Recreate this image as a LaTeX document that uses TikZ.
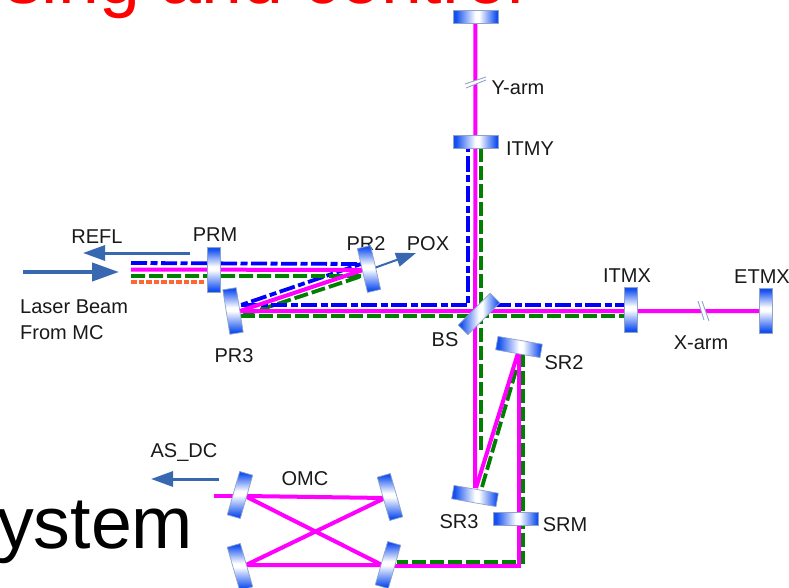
\documentclass[tikz,border=0pt]{standalone}
\usepackage{fontspec}
\setmainfont{Liberation Sans}
\usetikzlibrary{arrows.meta,backgrounds}
\definecolor{mirblue}{HTML}{1450F0}
\definecolor{miredge}{HTML}{8FA3C8}
\definecolor{arrblue}{HTML}{3768B0}
\definecolor{beammag}{HTML}{FF00FF}
\definecolor{beamblue}{HTML}{0000FF}
\definecolor{beamgreen}{HTML}{007F00}
\definecolor{beamorange}{HTML}{FF6633}
\pgfdeclarehorizontalshading{mirrorh}{100bp}{color(0bp)=(mirblue); color(28bp)=(mirblue); color(50bp)=(white); color(54bp)=(white); color(73bp)=(mirblue); color(100bp)=(mirblue)}
\pgfdeclareverticalshading{mirrorv}{100bp}{color(0bp)=(mirblue); color(28bp)=(mirblue); color(50bp)=(white); color(54bp)=(white); color(73bp)=(mirblue); color(100bp)=(mirblue)}
\tikzset{
  x=1pt,y=-1pt,
  hmirror/.style={draw=miredge,line width=.7pt,minimum width=45pt,minimum height=13.5pt,inner sep=0pt,shading=mirrorh},
  vmirror/.style={draw=miredge,line width=.7pt,minimum width=13.5pt,minimum height=45pt,inner sep=0pt,shading=mirrorv},
  lab/.style={font=\fontsize{20}{22}\selectfont,text=black!90,inner sep=0pt},
  magbeam/.style={draw=beammag,line width=4pt,line join=miter},
  bluebeam/.style={draw=beamblue,line width=3.8pt,dash pattern=on 16pt off 3.5pt on 7pt off 3.5pt},
  greenbeam/.style={draw=beamgreen,line width=3.8pt,dash pattern=on 14pt off 4pt},
  orangebeam/.style={draw=beamorange,line width=4.4pt,dash pattern=on 5.5pt off 2pt},
  bigarrow/.style={draw=arrblue,line width=4pt,-{Triangle[length=27pt,width=18pt,fill=arrblue]}},
  midarrow/.style={draw=arrblue,line width=3pt,-{Triangle[length=22pt,width=15pt,fill=arrblue]}},
  smallarrow/.style={draw=arrblue,line width=2pt,-{Triangle[length=20pt,width=14pt,fill=arrblue]}},
  breakmark/.style={draw=miredge,line width=.9pt,fill=white},
}
\begin{document}
\begin{tikzpicture}
\useasboundingbox (0,0) rectangle (789,588);
\clip (0,0) rectangle (789,588);
% slide title and text behind the figure
\node[anchor=base west,inner sep=0pt,text=red,font=\fontsize{73.5}{75}\selectfont] (title) at (5,4) {sing and control};
\node[anchor=base west,inner sep=0pt,text=black,font=\fontsize{73.5}{75}\selectfont] (sys) at (-3,548) {ystem};
% labels
\node[lab] (lrefl) at (97,237) {REFL};
\node[lab] (lprm) at (215,235) {PRM};
\node[lab,anchor=west] (llaser) at (20,307) {Laser Beam};
\node[lab,anchor=west] (lmc) at (20,333) {From MC};
\node[lab] (lpr3) at (234,356) {PR3};
\node[lab] (lpr2) at (366,244) {PR2};
\node[lab] (lpox) at (428,244) {POX};
\node[lab] (lyarm) at (518,88) {Y-arm};
\node[lab] (litmy) at (530,149) {ITMY};
\node[lab] (litmx) at (627,276) {ITMX};
\node[lab] (letmx) at (762,277) {ETMX};
\node[lab] (lxarm) at (701,343) {X-arm};
\node[lab] (lbs) at (445,340) {BS};
\node[lab] (lsr2) at (564,363) {SR2};
\node[lab] (lsr3) at (459,522) {SR3};
\node[lab] (lsrm) at (565,525) {SRM};
\node[lab] (lasdc) at (184,453) {AS\_DC};
\node[lab] (lomc) at (305,479) {OMC};
% mirrors
\node[hmirror] (etmy) at (475.5,17) {};
\node[hmirror] (itmy) at (475.5,142) {};
\node[vmirror] (prm) at (214,270) {};
\node[vmirror,rotate=9] (pr3) at (233,311) {};
\node[vmirror,rotate=13] (pr2) at (369,269) {};
\node[hmirror,rotate=45] (bs) at (479,314) {};
\node[vmirror] (itmx) at (631,310) {};
\node[vmirror] (etmx) at (766,311) {};
\node[hmirror,rotate=-10] (sr2) at (519,347) {};
\node[hmirror,rotate=-10] (sr3) at (475,496) {};
\node[hmirror] (srm) at (516,519) {};
\node[vmirror,rotate=-16] (om1) at (240,495) {};
\node[vmirror,rotate=16] (om2) at (390,497) {};
\node[vmirror,rotate=16] (om3) at (240,567) {};
\node[vmirror,rotate=-16] (om4) at (388,565) {};
% way points
\coordinate (inb) at (131,263); \coordinate (inm) at (131,269.5);
\coordinate (ing) at (131,276); \coordinate (ino) at (131,282);
\coordinate (ino2) at (205,282);
\coordinate (p2b) at (361,264); \coordinate (p2m) at (363,270); \coordinate (p2g) at (362,276);
\coordinate (p3b) at (241,305); \coordinate (p3m) at (240,311); \coordinate (p3g) at (241,316);
\coordinate (cb) at (468,305); \coordinate (cm) at (475,311);
\coordinate (yb) at (468,148); \coordinate (ym) at (475,148); \coordinate (yg) at (481,148);
\coordinate (bb) at (495,305); \coordinate (xb) at (625,305); \coordinate (xg) at (625,316);
\coordinate (gv) at (481,450);
\coordinate (s3m) at (475,488); \coordinate (s3d) at (476,488); \coordinate (s2d) at (518,353);
\coordinate (s3g) at (482,487); \coordinate (s2g) at (517,367);
\coordinate (s2m) at (519,353); \coordinate (s2r) at (523,353);
\coordinate (cnm) at (519,566); \coordinate (cng) at (523,562);
\coordinate (o4m) at (390,566); \coordinate (o4g) at (397,562);
\coordinate (o1in) at (214,496);
\coordinate (a1) at (245,496); \coordinate (a2) at (385,498);
\coordinate (a3) at (246,565); \coordinate (a4) at (382,565);
% beams, behind the mirrors
\begin{scope}[on background layer]
\draw[bluebeam] (inb) -- (p2b) -- (p3b);
\draw[greenbeam] (ing) -- (p2g) -- (p3g);
\draw[orangebeam] (ino) -- (ino2);
\draw[bluebeam] (p3b) -- (cb) -- (yb);
\draw[bluebeam] (bb) -- (xb);
\draw[greenbeam] (p3g) -- (xg);
\draw[greenbeam] (yg) -- (gv);
\draw[greenbeam] (s3g) -- (s2g);
\draw[greenbeam] (s2r) -- (cng) -- (o4g);
\draw[magbeam] (inm) -- (p2m) -- (p3m) -- (etmx.center);
\draw[magbeam] (etmy.center) -- (s3m);
\draw[magbeam] (s3d) -- (s2d);
\draw[magbeam] (s2m) -- (cnm) -- (o4m);
\draw[magbeam] (o1in) -- (a1);
\draw[magbeam] (a1) -- (a2) -- (a3) -- (a4) -- cycle;
\end{scope}
% break marks
\coordinate (ya) at (465,84); \coordinate (yc) at (486,77); \coordinate (yd) at (486,80); \coordinate (ye) at (466,88);
\coordinate (xa) at (698,301); \coordinate (xc) at (704,320); \coordinate (xd) at (709,321); \coordinate (xe) at (702,301);
\fill[white] (ya) -- (yc) -- (yd) -- (ye) -- cycle;
\fill[white] (xa) -- (xc) -- (xd) -- (xe) -- cycle;
\draw[breakmark] (ya) -- (yc) (ye) -- (yd);
\draw[breakmark] (xa) -- (xc) (xe) -- (xd);
% arrows
\coordinate (reflS) at (190,253); \coordinate (reflE) at (83,253);
\coordinate (lasS) at (23,272); \coordinate (lasE) at (119,272);
\coordinate (asS) at (219,479); \coordinate (asE) at (151,479);
\coordinate (poxE) at (416,253);
\draw[midarrow] (reflS) -- (reflE);
\draw[bigarrow] (lasS) -- (lasE);
\draw[midarrow] (asS) -- (asE);
\draw[smallarrow] (pr2.east) -- (poxE);
\end{tikzpicture}
\end{document}
